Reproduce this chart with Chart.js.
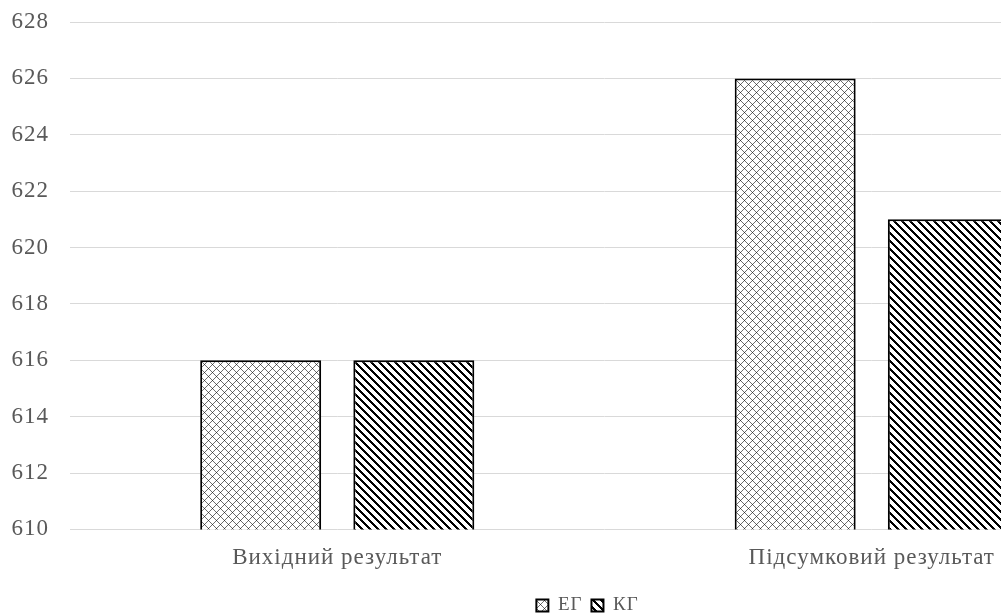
<!DOCTYPE html>
<html>
<head>
<meta charset="utf-8">
<script src="https://cdn.jsdelivr.net/npm/chart.js@4"></script>
<style>
  html, body { margin: 0; padding: 0; background: #fff; overflow: hidden; }
  #wrap { position: relative; width: 1139px; height: 615px; }
</style>
</head>
<body>
<div id="wrap"><canvas id="chart"></canvas></div>
<script>
// Categories, series and axis range
const categories = ['Вихідний результат', 'Підсумковий результат'];
const seriesNames = ['ЕГ', 'КГ'];
const egValues = [616, 626];
const kgValues = [616, 621];
const yMin = 610;
const yMax = 628;
const yStep = 2;

// Small repeating fill tiles: crosshatch and back-diagonal stripes
function makePattern(kind) {
  const size = 8;
  const c = document.createElement('canvas');
  c.width = size; c.height = size;
  const g = c.getContext('2d');
  const img = g.createImageData(size, size);
  for (let y = 0; y < size; y++) {
    for (let x = 0; x < size; x++) {
      let v = 255;
      const d1 = ((x - y) % size + size) % size;
      const d2 = (x + y) % size;
      if (kind === 'cross') {
        if (d1 === 0 && d2 === 0) v = 50;
        else if (d1 === 0 || d2 === 0) v = 110;
      } else {
        if (d1 < 3) v = 0;
      }
      const i = (y * size + x) * 4;
      img.data[i] = v; img.data[i + 1] = v; img.data[i + 2] = v; img.data[i + 3] = 255;
    }
  }
  g.putImageData(img, 0, 0);
  return g.createPattern(c, 'repeat');
}

const serif = '"Liberation Serif", "DejaVu Serif", serif';
const textColor = '#595959';
const gridColor = '#d9d9d9';
const spacing = '1px';

// Letter spacing for all chart text, and a small horizontal shift of the legend
const textSpacing = {
  id: 'textSpacing',
  beforeLayout(chart) { chart.ctx.letterSpacing = spacing; },
  afterLayout(chart) {
    const shift = 15;
    if (chart.legend) { chart.legend.left += shift; chart.legend.right += shift; }
  },
  beforeDraw(chart) { chart.ctx.letterSpacing = spacing; }
};

new Chart(document.getElementById('chart'), {
  type: 'bar',
  data: {
    labels: categories,
    datasets: [
      {
        label: seriesNames[0],
        data: egValues,
        backgroundColor: makePattern('cross'),
        borderColor: '#000',
        borderWidth: 2,
        borderSkipped: false
      },
      {
        label: seriesNames[1],
        data: kgValues,
        backgroundColor: makePattern('stripe'),
        borderColor: '#000',
        borderWidth: 2,
        borderSkipped: false
      }
    ]
  },
  plugins: [textSpacing],
  options: {
    responsive: true,
    maintainAspectRatio: false,
    animation: false,
    datasets: { bar: { categoryPercentage: 0.573, barPercentage: 0.79 } },
    layout: { padding: { left: 6, right: 0, top: 22, bottom: -10 } },
    scales: {
      x: {
        grid: { display: false, drawTicks: false },
        border: { display: false },
        ticks: { padding: 15, color: textColor, font: { family: serif, size: 23 } }
      },
      y: {
        min: yMin,
        max: yMax,
        grid: { color: gridColor, lineWidth: 1, drawTicks: false },
        border: { display: false },
        ticks: {
          stepSize: yStep,
          padding: 21,
          color: textColor,
          font: { family: serif, size: 23 }
        },
        afterFit(scale) {
          scale.width = 64;
          scale.paddingTop = 0;
          scale.paddingBottom = 0;
        }
      }
    },
    plugins: {
      legend: {
        position: 'bottom',
        labels: {
          boxWidth: 12,
          boxHeight: 12,
          padding: 9,
          color: textColor,
          font: { family: serif, size: 19 }
        }
      },
      tooltip: { enabled: false }
    }
  }
});
</script>
</body>
</html>
